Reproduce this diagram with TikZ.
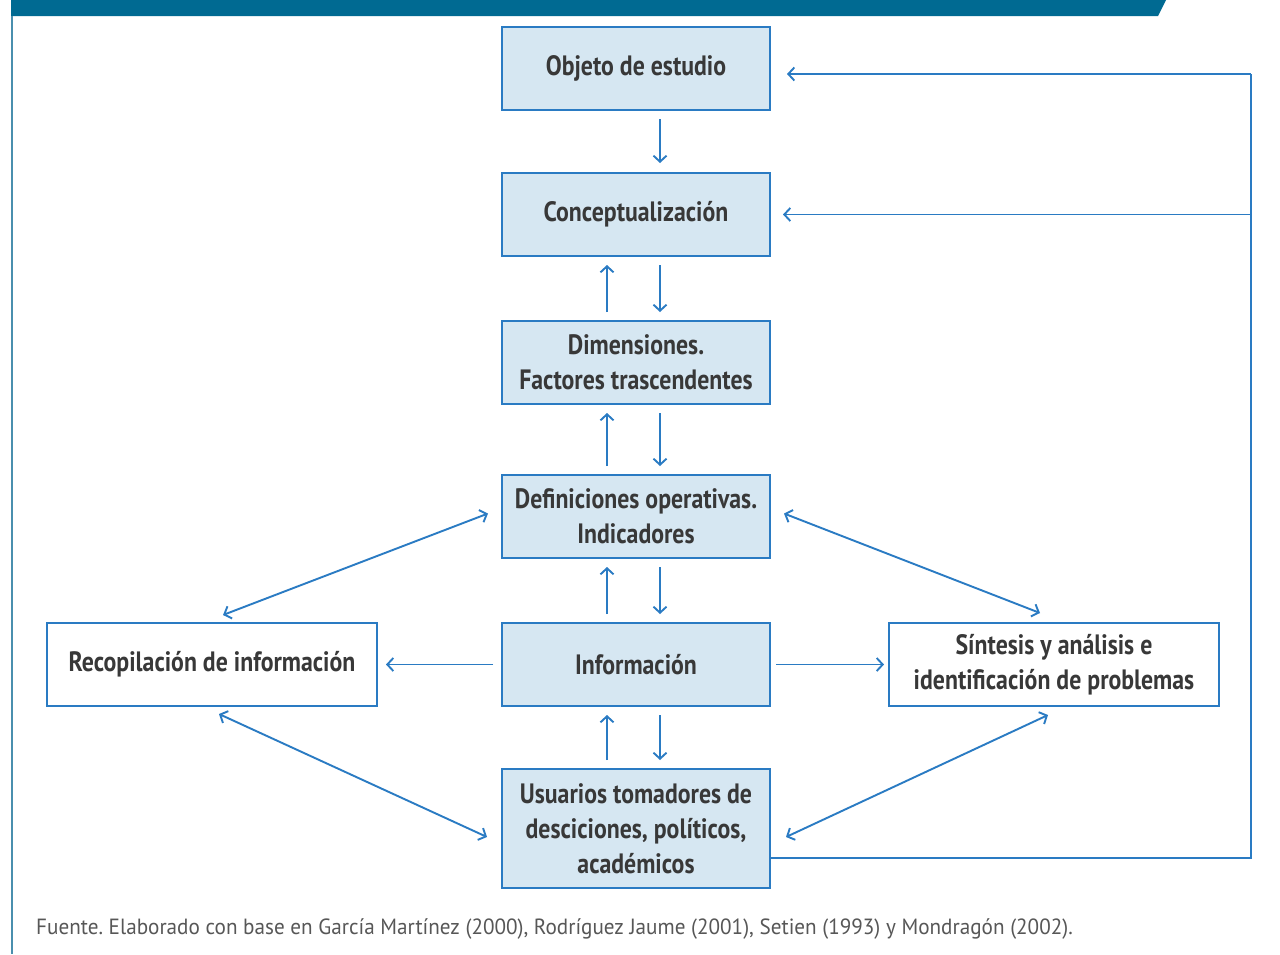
\documentclass[tikz,border=0pt]{standalone}
\usepackage{fontspec}
\setmainfont{PT Sans}
\newfontfamily\boxfont[FakeStretch=0.85]{PT Sans Bold}
\newfontfamily\notefont[FakeStretch=0.962]{PT Sans}
\usetikzlibrary{arrows.meta,calc}

\definecolor{barblue}{HTML}{006A92}
\definecolor{edgeteal}{HTML}{4A8FAE}
\definecolor{lineblue}{HTML}{2A7BC3}
\definecolor{boxfill}{HTML}{D6E7F2}
\definecolor{inktext}{HTML}{383838}
\definecolor{notegray}{HTML}{575757}

\tikzset{
  stage/.style={draw=lineblue, line width=2pt, fill=boxfill, rectangle,
    minimum width=268pt, minimum height=83pt, inner sep=0pt, align=center,
    text=inktext, font=\boxfont\fontsize{28}{35}\selectfont},
  sidebox/.style={stage, fill=white, minimum width=330pt},
  link/.style={draw=lineblue, line width=1.9pt},
  arr/.style={link, -{Straight Barb[length=6pt,width=13pt,line width=1.9pt]}},
  biarr/.style={link, {Straight Barb[length=6pt,width=13pt,line width=1.9pt]}-{Straight Barb[length=6pt,width=13pt,line width=1.9pt]}},
  gap/.style={shorten <=8pt, shorten >=8pt}
}

\begin{document}
\frenchspacing
\begin{tikzpicture}[x=1pt,y=-1pt]
\useasboundingbox (0,0) rectangle (1280,954);
\fill[white] (0,0) rectangle (1280,954);

% header band and left rule
\fill[barblue] (11,0) -- (1166,0) -- (1158,16) -- (11,16) -- cycle;
\fill[edgeteal] (10.5,16) rectangle (12.5,954);

% central column
\node[stage] (obj) at (636,68.5) {Objeto de estudio};
\node[stage] (con) at (636,214.5) {Conceptualización};
\node[stage] (dim) at (636,362.5) {Dimensiones.\\Factores trascendentes};
\node[stage] (def) at (636,516.5) {Definiciones operativas.\\Indicadores};
\node[stage] (inf) at (636,664.5) {Información};
\node[stage, minimum height=119pt] (usu) at (636,828.5) {Usuarios tomadores de\\desciciones, políticos,\\académicos};

% side boxes
\node[sidebox] (rec) at (212,664.5) {Recopilación de información};
\node[sidebox] (sin) at (1054,664.5) {Síntesis y análisis e\\identificación de problemas};

% vertical links
\draw[arr, shorten <=8pt, shorten >=9pt] ([xshift=24pt]obj.south) -- ([xshift=24pt]con.north);
\foreach \a/\b in {con/dim, dim/def, def/inf, inf/usu}{
  \draw[arr, gap] ([xshift=24pt]\a.south) -- ([xshift=24pt]\b.north);
  \draw[arr, gap] ([xshift=-29pt]\b.north) -- ([xshift=-29pt]\a.south);
}

% horizontal links from Información
\draw[arr, gap] (inf.west) -- (rec.east);
\draw[arr, shorten <=5pt, shorten >=4pt] (inf.east) -- (sin.west);

% diagonal links
\draw[biarr] ([xshift=-13pt,yshift=3pt]def.west) -- ([xshift=11pt,yshift=7pt]rec.north);
\draw[biarr] ([xshift=13pt,yshift=3pt]def.east) -- ([xshift=-14pt,yshift=9pt]sin.north);
\draw[biarr] ([xshift=7pt,yshift=-7pt]rec.south) -- ([xshift=-14pt,yshift=-8.5pt]usu.west);
\draw[biarr] ([xshift=-6pt,yshift=-8pt]sin.south) -- ([xshift=15pt,yshift=-8.5pt]usu.east);

% feedback loop on the right
\coordinate (loopTop) at (1251,74);
\coordinate (loopMid) at (1251,214.5);
\draw[link] ([yshift=-29.5pt]usu.east) -| (loopTop);
\draw[arr] (loopTop) -- ([xshift=16pt,yshift=-5.5pt]obj.east);
\draw[arr] (loopMid) -- ([xshift=12pt]con.east);

% source note
\node[anchor=west, text=notegray, font=\notefont\fontsize{22}{26}\selectfont, inner sep=0pt] (note) at (36,929)
  {Fuente. Elaborado con base en García Martínez (2000), Rodríguez Jaume (2001), Setien (1993) y Mondragón (2002).};
\end{tikzpicture}
\end{document}
